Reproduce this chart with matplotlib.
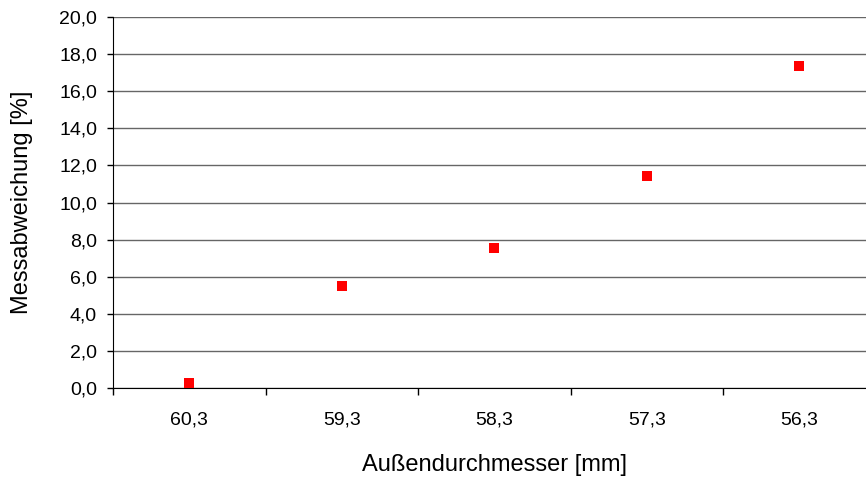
import matplotlib
matplotlib.use("Agg")
import matplotlib.pyplot as plt
from matplotlib.ticker import FixedLocator, FuncFormatter

plt.rcParams["font.family"] = ["Liberation Sans", "DejaVu Sans"]

# data
durchmesser = ["60,3", "59,3", "58,3", "57,3", "56,3"]
abweichung = [0.25, 5.5, 7.55, 11.45, 17.35]
y_ticks = [0, 2, 4, 6, 8, 10, 12, 14, 16, 18, 20]

fig = plt.figure(figsize=(8.66, 4.78), dpi=100)
ax = fig.add_axes([0.1305, 0.1883, 0.8805, 0.776])

x = list(range(len(durchmesser)))
ax.scatter(x, abweichung, marker="s", s=55, color="#ff0000", zorder=3, linewidths=0)

ax.set_xlim(-0.5, len(durchmesser) - 0.5)
ax.set_ylim(0, 20)
ax.yaxis.set_major_locator(FixedLocator(y_ticks))
ax.yaxis.set_major_formatter(FuncFormatter(lambda v, p: f"{v:.1f}".replace(".", ",")))
ax.grid(axis="y", color="#666666", linewidth=1)
ax.set_axisbelow(True)

# categories centred, ticks between them
ax.set_xticks(x)
ax.set_xticklabels(durchmesser)
ax.set_xticks([i + 0.5 for i in range(-1, len(durchmesser))], minor=True)
ax.tick_params(axis="x", which="major", length=0, pad=17, labelsize=14)
ax.tick_params(axis="x", which="minor", length=5, width=1, direction="out")
ax.tick_params(axis="y", length=4.5, width=1, direction="out", labelsize=14, pad=7)

for side in ["top", "right"]:
    ax.spines[side].set_visible(False)
ax.spines["left"].set_color("black")
ax.spines["bottom"].set_color("black")

ax.set_xlabel("Außendurchmesser [mm]", fontsize=17, va="center")
ax.set_ylabel("Messabweichung [%]", fontsize=17, va="center")
ax.xaxis.set_label_coords(0.5, -77 / 371)
ax.yaxis.set_label_coords(-91 / 762.5, 0.5)

fig.savefig("out.png", dpi=100)
